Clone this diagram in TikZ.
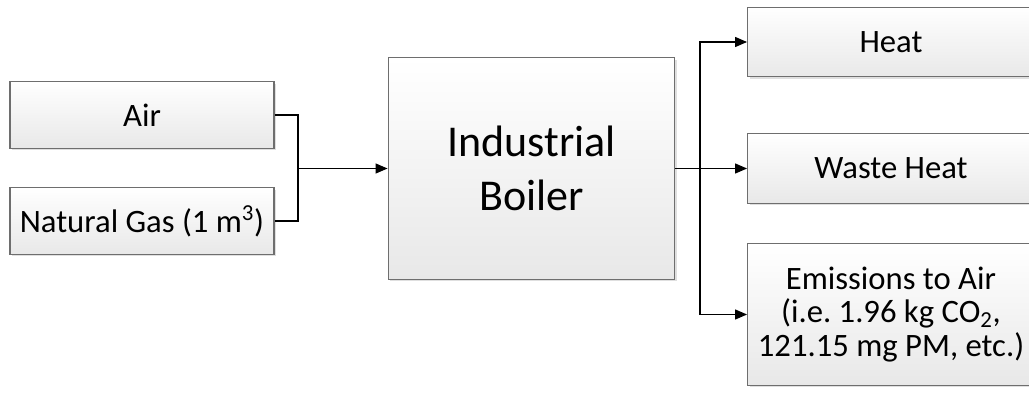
\documentclass[tikz,border=0pt]{standalone}
\usepackage{fontspec}
\setmainfont{Carlito}
\usetikzlibrary{arrows.meta,shadows}

\tikzset{
  flowbox/.style={draw={rgb,255:red,110;green,110;blue,110}, line width=0.9pt,
    top color=white, bottom color={rgb,255:red,232;green,232;blue,232},
    drop shadow={shadow xshift=1.5pt, shadow yshift=-1.5pt, opacity=0.25, fill=gray},
    inner sep=0pt, align=center, font=\frenchspacing\fontsize{24.5}{25}\selectfont},
  outbox/.style={flowbox, minimum width=215pt},
  flowline/.style={line width=0.9pt},
  flowarrow/.style={line width=0.9pt, -{Triangle[length=9pt,width=7.5pt]}}
}

\begin{document}
\begin{tikzpicture}[x=0.75pt,y=0.75pt,yscale=-1,xscale=1]
\useasboundingbox (0,0) rectangle (1029,396);

% input boxes
\node [flowbox, minimum width=198pt, minimum height=50pt] (air) at (142,115) {Air};
\node [flowbox, minimum width=198pt, minimum height=50pt] (gas) at (142,221) {Natural Gas (1 m\textsuperscript{3})};

% boiler
\node [flowbox, minimum width=215pt, minimum height=166pt, font=\fontsize{33}{40}\selectfont] (boiler) at (531.5,168.5) {Industrial\\Boiler};

% output boxes
\node [outbox, minimum height=52pt] (heat) at (891,42) {Heat};
\node [outbox, minimum height=52pt] (waste) at (891,168.5) {Waste Heat};
\node [outbox, minimum height=106pt] (emis) at (891,314.5) {Emissions to Air\\(i.e. 1.96 kg CO\textsubscript{2},\\121.15 mg PM, etc.)};

% junctions
\coordinate (jin) at (298,168.5);
\coordinate (jout) at (700,168.5);

% connectors
\draw [flowline] (air.east) -| (jin) |- (gas.east);
\draw [flowarrow] (jin) -- (boiler.west);
\draw [flowline] (boiler.east) -- (jout);
\draw [flowarrow] (jout) |- (heat.west);
\draw [flowarrow] (jout) -- (waste.west);
\draw [flowarrow] (jout) |- (emis.west);

\end{tikzpicture}
\end{document}
